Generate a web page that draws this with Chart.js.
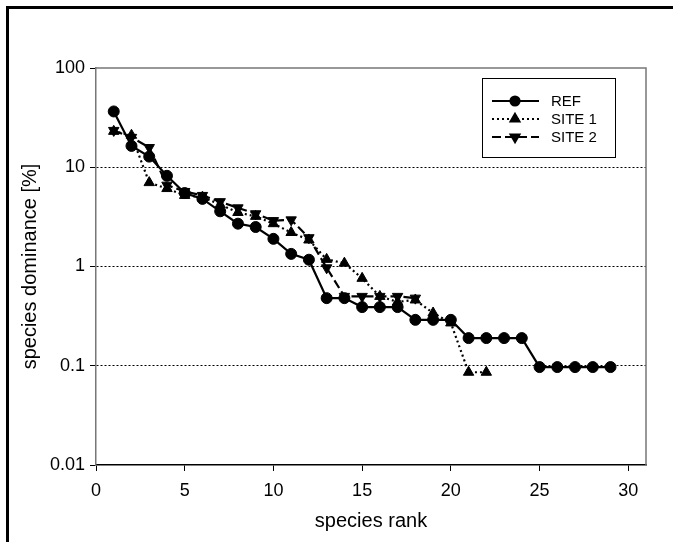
<!DOCTYPE html>
<html>
<head>
<meta charset="utf-8">
<script src="https://cdn.jsdelivr.net/npm/chart.js@4/dist/chart.umd.min.js"></script>
<style>
  html, body { margin: 0; padding: 0; background: #fff; }
  #wrap { width: 673px; height: 542px; position: relative; }
</style>
</head>
<body>
<div id="wrap"><canvas id="myChart"></canvas></div>
<script>
// species rank-dominance values (percent)
const refRanks = [1,2,3,4,5,6,7,8,9,10,11,12,13,14,15,16,17,18,19,20,21,22,23,24,25,26,27,28,29];
const refValues = [36.5,16.4,12.8,8.2,5.5,4.8,3.6,2.7,2.5,1.9,1.34,1.17,0.48,0.48,0.39,0.39,0.39,0.29,0.29,0.29,0.19,0.19,0.19,0.19,0.097,0.097,0.097,0.097,0.097];

const site1Ranks = [1,2,3,4,5,6,7,8,9,10,11,12,13,14,15,16,17,18,19,20,21,22];
const site1Values = [23,21,7.0,6.1,5.2,5.0,4.2,3.5,3.2,2.7,2.2,1.85,1.18,1.08,0.76,0.5,0.44,0.46,0.34,0.27,0.086,0.086];

const site2Ranks = [1,2,3,4,5,6,7,8,9,10,11,12,13,14,15,16,17,18];
const site2Values = [23.5,20,15.8,6.6,5.7,5.2,4.5,3.9,3.4,2.9,2.95,1.95,0.97,0.5,0.5,0.5,0.5,0.48];

const yTicks = [0.01, 0.1, 1, 10, 100];
const xTicks = [0, 5, 10, 15, 20, 25, 30];

function toPoints(xs, ys) {
  return xs.map(function (x, i) { return { x: x, y: ys[i] }; });
}

const FONT = "'Liberation Sans', Arial, sans-serif";

// frame, plot border and legend box, drawn on top
const decorations = {
  id: 'decorations',
  afterDraw(chart) {
    const ctx = chart.ctx;
    const a = chart.chartArea;
    ctx.save();
    // outer figure frame (only left and top visible)
    ctx.strokeStyle = '#000';
    ctx.lineWidth = 3;
    ctx.beginPath();
    ctx.moveTo(7.5, 542);
    ctx.lineTo(7.5, 7.5);
    ctx.lineTo(673, 7.5);
    ctx.stroke();
    // plot area border (top, right)
    ctx.strokeStyle = '#777';
    ctx.lineWidth = 1.5;
    ctx.beginPath();
    ctx.moveTo(a.left, a.top);
    ctx.lineTo(a.right, a.top);
    ctx.lineTo(a.right, a.bottom);
    ctx.stroke();

    // legend
    const bx = 482, by = 78, bw = 133, bh = 79;
    ctx.fillStyle = '#fff';
    ctx.fillRect(bx, by, bw, bh);
    ctx.strokeStyle = '#000';
    ctx.lineWidth = 1;
    ctx.strokeRect(bx + 0.5, by + 0.5, bw, bh);
    const rows = [101, 119, 137];
    chart.data.datasets.forEach(function (ds, i) {
      const y = rows[i];
      ctx.strokeStyle = '#000';
      ctx.lineWidth = ds.borderWidth;
      ctx.setLineDash(ds.borderDash || []);
      ctx.beginPath();
      ctx.moveTo(492, y);
      ctx.lineTo(539, y);
      ctx.stroke();
      ctx.setLineDash([]);
      ctx.fillStyle = '#000';
      Chart.helpers.drawPoint(ctx, {
        pointStyle: ds.pointStyle,
        rotation: ds.pointRotation || 0,
        radius: ds.pointRadius - 1,
        borderWidth: 1
      }, 515, y);
      ctx.fill();
      ctx.fillStyle = '#000';
      ctx.font = '15px ' + FONT;
      ctx.textBaseline = 'middle';
      ctx.textAlign = 'left';
      ctx.fillText(ds.label, 551, y + 1);
    });
    ctx.restore();
  }
};

const data = {
  datasets: [
    {
      label: 'REF',
      data: toPoints(refRanks, refValues),
      borderColor: '#000',
      backgroundColor: '#000',
      borderWidth: 2.2,
      pointStyle: 'circle',
      pointRadius: 5.5,
      pointBorderWidth: 1
    },
    {
      label: 'SITE 1',
      data: toPoints(site1Ranks, site1Values),
      borderColor: '#000',
      backgroundColor: '#000',
      borderWidth: 2.2,
      borderDash: [2, 3],
      pointStyle: 'triangle',
      pointRadius: 6,
      pointBorderWidth: 1
    },
    {
      label: 'SITE 2',
      data: toPoints(site2Ranks, site2Values),
      borderColor: '#000',
      backgroundColor: '#000',
      borderWidth: 2.2,
      borderDash: [9, 4],
      pointStyle: 'triangle',
      pointRotation: 180,
      pointRadius: 6,
      pointBorderWidth: 1
    }
  ]
};

const config = {
  type: 'line',
  data: data,
  options: {
    responsive: true,
    maintainAspectRatio: false,
    animation: false,
    layout: { padding: { left: 0, top: 68, right: 27, bottom: 0 } },
    plugins: {
      legend: { display: false },
      tooltip: { enabled: false }
    },
    elements: { line: { tension: 0 } },
    scales: {
      x: {
        type: 'linear',
        min: 0,
        max: 31,
        afterBuildTicks: function (scale) {
          scale.ticks = xTicks.map(function (v) { return { value: v }; });
        },
        afterFit: function (scale) { scale.height = 77; },
        border: { display: true, color: '#000', width: 1.5 },
        grid: {
          drawOnChartArea: false,
          drawTicks: true,
          tickLength: 6,
          tickColor: '#000',
          tickWidth: 1
        },
        ticks: {
          color: '#000',
          font: { family: FONT, size: 18 },
          padding: 9,
          maxRotation: 0
        },
        title: {
          display: true,
          text: 'species rank',
          color: '#000',
          font: { family: FONT, size: 20 },
          padding: { top: 0, bottom: 9 }
        }
      },
      y: {
        type: 'logarithmic',
        min: 0.01,
        max: 100,
        afterBuildTicks: function (scale) {
          scale.ticks = yTicks.map(function (v) { return { value: v }; });
        },
        afterFit: function (scale) { scale.width = 96; },
        border: { display: true, color: '#777', width: 1.5, dash: [2, 2] },
        grid: {
          color: function (c) {
            const v = c.tick && c.tick.value;
            return (v === 100 || v === 0.01) ? 'rgba(0,0,0,0)' : '#000';
          },
          lineWidth: 1,
          drawTicks: true,
          tickLength: 6,
          tickColor: '#000',
          tickWidth: 1,
          tickBorderDash: []
        },
        ticks: {
          color: '#000',
          font: { family: FONT, size: 18 },
          padding: 5,
          callback: function (v) { return String(v); }
        },
        title: {
          display: true,
          text: 'species dominance [%]',
          color: '#000',
          font: { family: FONT, size: 20 },
          padding: { top: 18, bottom: 0 }
        }
      }
    }
  },
  plugins: [decorations]
};

const context = document.getElementById('myChart').getContext('2d');
const chart = new Chart(context, config);
</script>
</body>
</html>
